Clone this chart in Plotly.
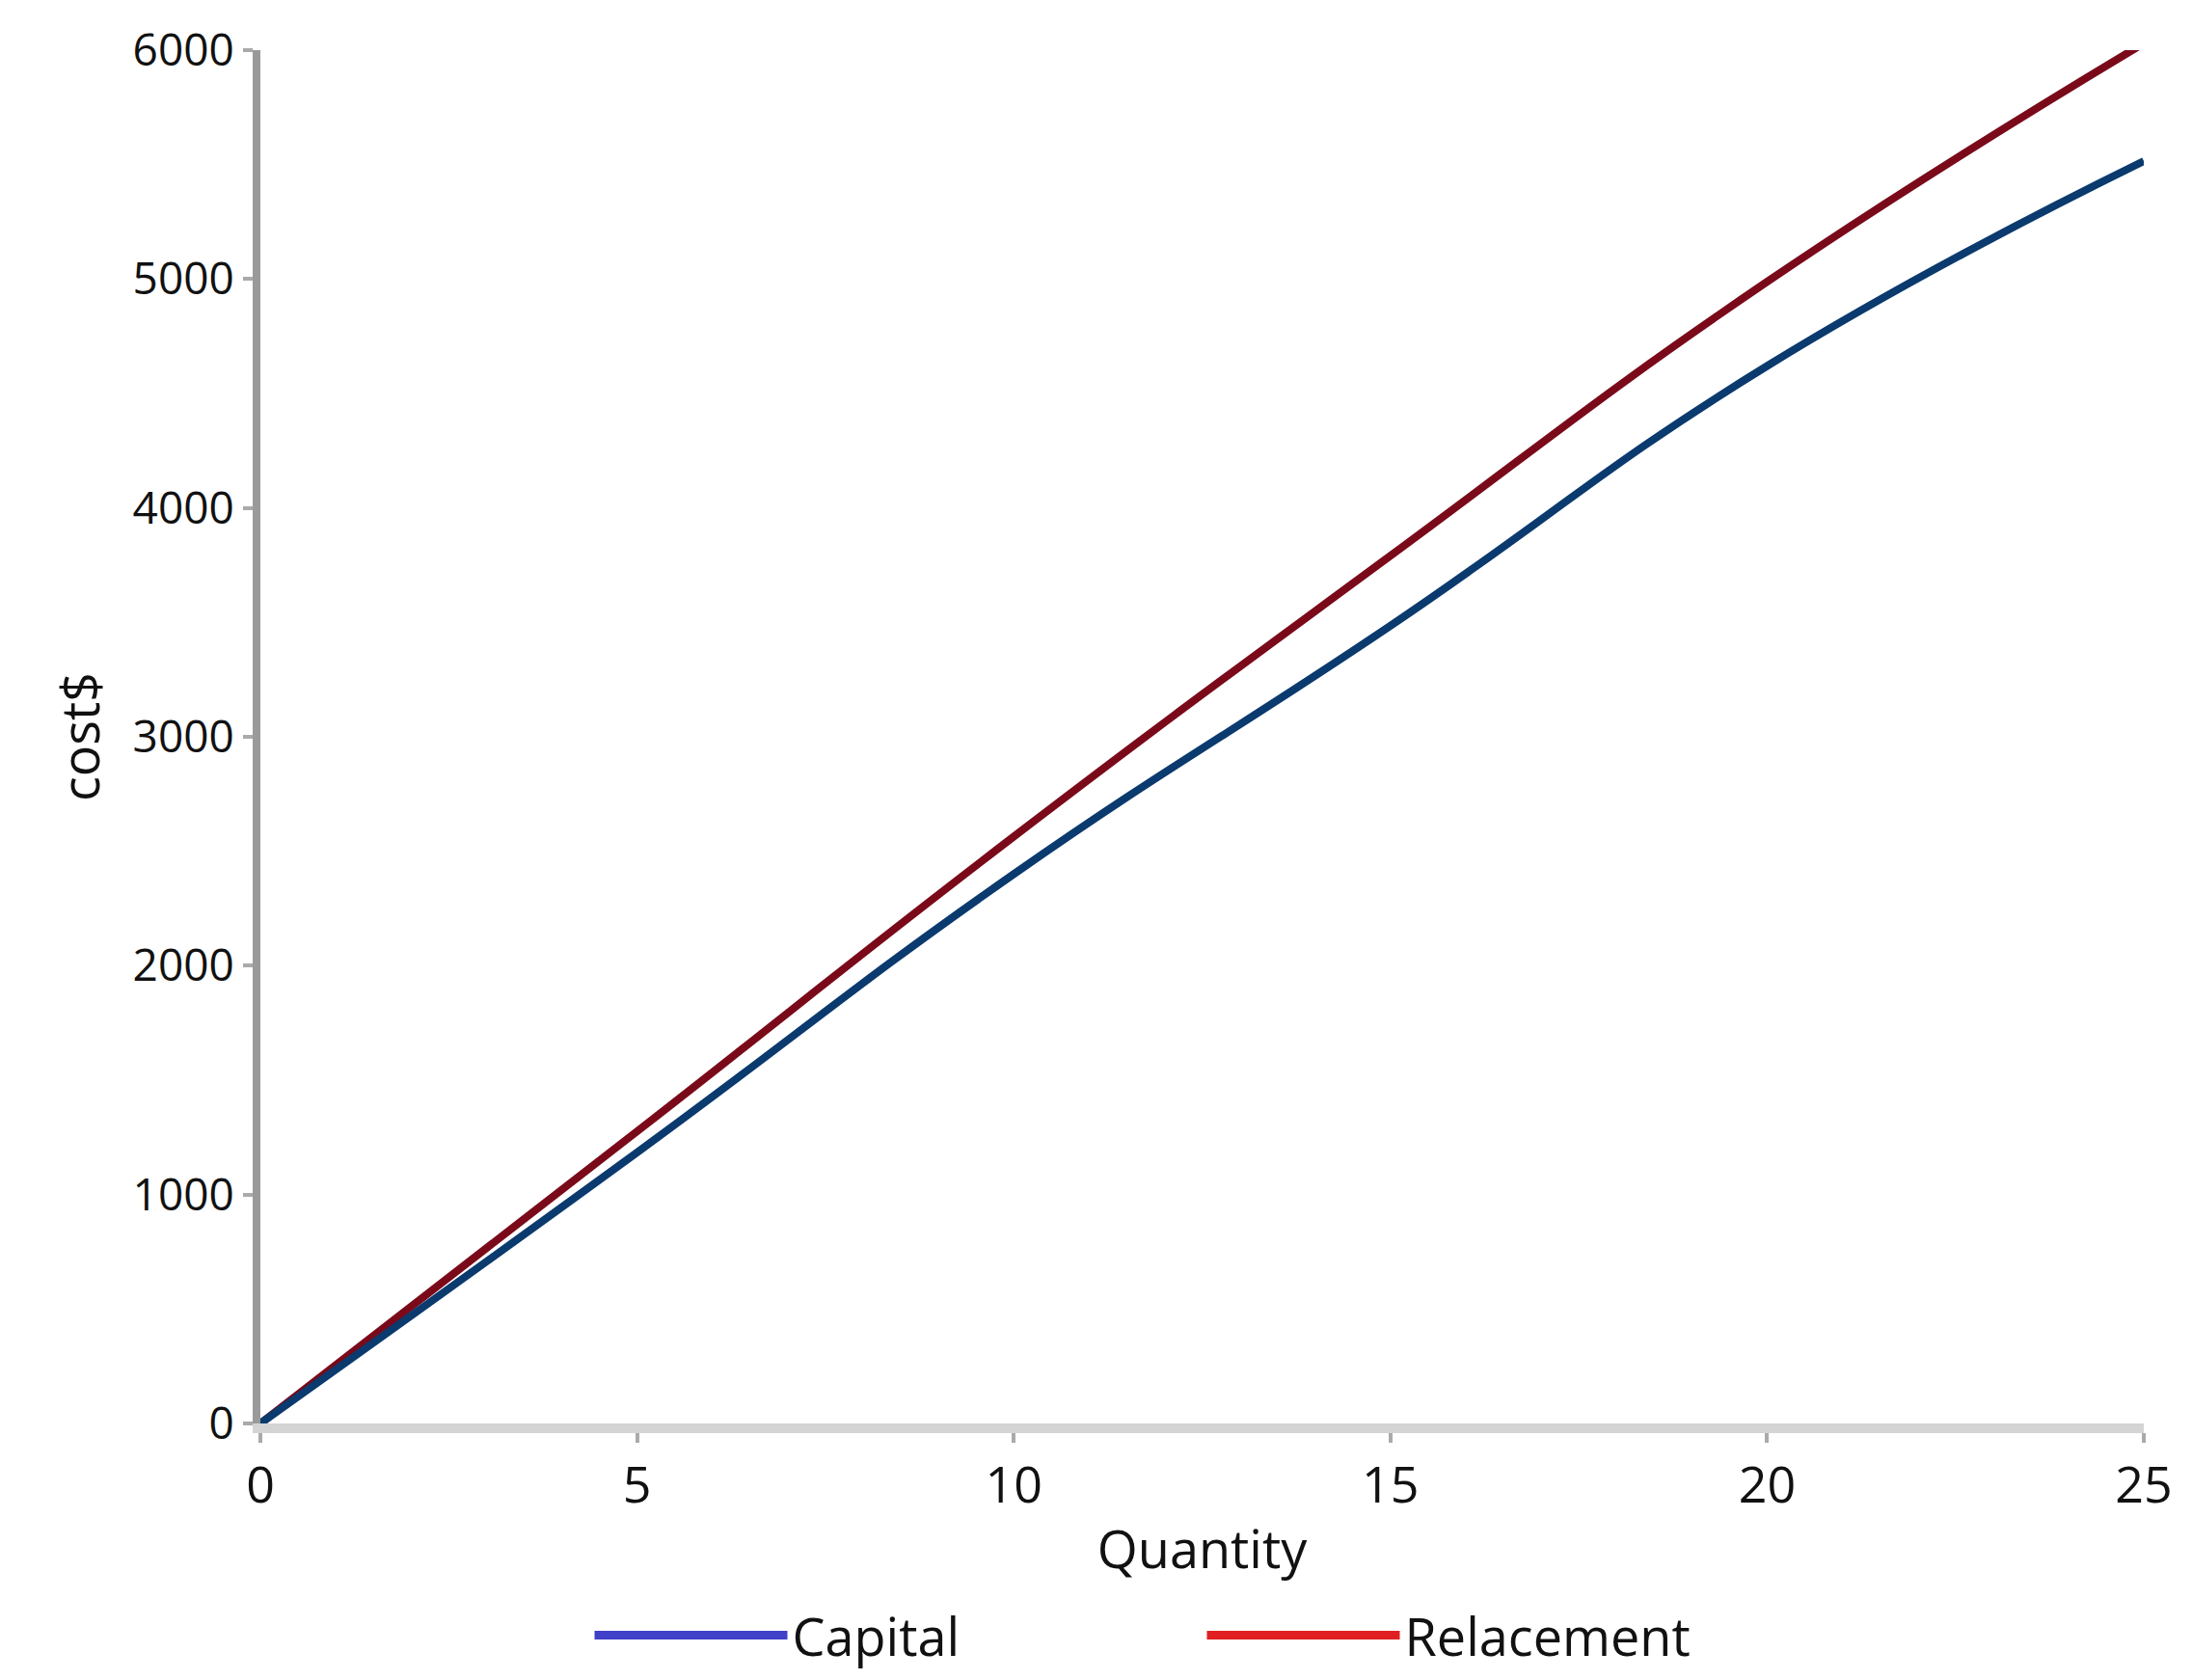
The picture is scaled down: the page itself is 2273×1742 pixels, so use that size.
import plotly.graph_objects as go

quantity = [0, 5, 10, 15, 20, 25]
capital = [0, 1184, 2400, 3485, 4620, 5515]
replacement = [0, 1276, 2564, 3791, 4988, 6030]
y_ticks = [0, 1000, 2000, 3000, 4000, 5000, 6000]
x_ticks = [0, 5, 10, 15, 20, 25]

fig = go.Figure()
fig.add_trace(go.Scatter(x=quantity, y=replacement, mode="lines", line=dict(color="#7a0a1a", width=8, shape="spline", smoothing=1.3), showlegend=False))
fig.add_trace(go.Scatter(x=quantity, y=capital, mode="lines", line=dict(color="#0a3a6e", width=8, shape="spline", smoothing=1.3), showlegend=False))
fig.add_trace(go.Scatter(x=[None], y=[None], mode="lines", name="Capital", line=dict(color="#4040c8", width=9)))
fig.add_trace(go.Scatter(x=[None], y=[None], mode="lines", name="Relacement", line=dict(color="#e02020", width=9)))

font = "Open Sans"
fig.update_layout(
    width=2273, height=1742,
    paper_bgcolor="white", plot_bgcolor="white",
    margin=dict(l=262, r=58, t=44, b=245),
    font=dict(family=font, size=46, color="#111"),
    showlegend=True,
    legend=dict(orientation="h", x=0.5, xanchor="center", y=-0.125, yanchor="top",
                font=dict(size=54), itemwidth=200, entrywidth=420),
    xaxis=dict(range=[0, 25], tickvals=x_ticks, showgrid=False, zeroline=False,
               showline=True, linecolor="#d4d4d4", linewidth=10,
               ticks="outside", ticklen=10, tickcolor="#aaaaaa", tickwidth=4,
               tickfont=dict(size=52),
               title=dict(text="Quantity", font=dict(size=54), standoff=20)),
    yaxis=dict(range=[0, 6000], tickvals=y_ticks, showgrid=False, zeroline=False,
               showline=True, linecolor="#9a9a9a", linewidth=8,
               ticks="outside", ticklen=10, tickcolor="#aaaaaa", tickwidth=4,
               tickfont=dict(size=46),
               title=dict(text="cost$", font=dict(size=54), standoff=20)),
)
fig.write_html("out.html")
